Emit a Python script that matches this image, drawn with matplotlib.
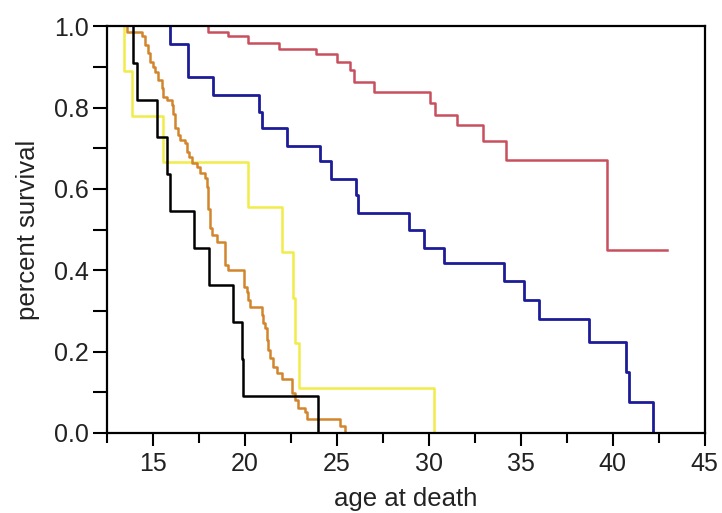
import matplotlib
matplotlib.use("Agg")
import matplotlib.pyplot as plt
from matplotlib.ticker import MultipleLocator

plt.rcParams['font.family'] = ['Liberation Sans', 'DejaVu Sans']

# event times (age at death) and survival after each event
black_t = [13.93, 14.15, 15.24, 15.75, 15.93, 17.25, 18.05, 19.38, 19.83, 19.92, 24.0]
black_s = [0.909, 0.818, 0.727, 0.636, 0.545, 0.455, 0.364, 0.273, 0.182, 0.091, 0.0]

yellow_t = [13.44, 13.88, 15.57, 20.19, 22.0, 22.61, 22.73, 22.97, 30.26]
yellow_s = [0.889, 0.778, 0.667, 0.556, 0.444, 0.333, 0.222, 0.111, 0.0]

orange_t = [13.57, 14.39, 14.57, 14.75, 14.84, 15.02, 15.11, 15.29, 15.48, 15.56,
            15.75, 16.02, 16.11, 16.20, 16.38, 16.47, 16.75, 16.87, 16.98, 17.11,
            17.38, 17.56, 17.83, 17.93, 18.01, 18.10, 18.20, 18.47, 18.92, 19.10,
            19.96, 20.10, 20.19, 20.28, 20.92, 21.01, 21.10, 21.19, 21.28, 21.37,
            21.55, 21.74, 22.01, 22.55, 22.73, 22.91, 23.28, 23.37, 25.18, 25.46]
orange_s = [0.986, 0.975, 0.953, 0.933, 0.912, 0.900, 0.888, 0.867, 0.847, 0.826,
            0.818, 0.806, 0.785, 0.749, 0.732, 0.720, 0.712, 0.691, 0.679, 0.663,
            0.654, 0.638, 0.626, 0.605, 0.550, 0.503, 0.486, 0.470, 0.413, 0.400,
            0.359, 0.347, 0.327, 0.310, 0.290, 0.270, 0.257, 0.228, 0.204, 0.184,
            0.163, 0.147, 0.132, 0.098, 0.081, 0.061, 0.052, 0.034, 0.017, 0.0]

blue_t = [15.93, 16.89, 18.29, 20.77, 20.92, 22.28, 24.09, 24.69, 26.06, 26.18,
          28.94, 29.72, 30.81, 34.07, 35.2, 35.98, 38.7, 40.75, 40.9, 42.2]
blue_s = [0.957, 0.875, 0.832, 0.789, 0.750, 0.706, 0.668, 0.624, 0.585, 0.540,
          0.500, 0.455, 0.419, 0.374, 0.327, 0.280, 0.224, 0.149, 0.075, 0.0]

red_t = [18.01, 19.1, 20.19, 21.88, 23.85, 25.02, 25.73, 25.95, 27.03, 30.08,
         30.36, 31.54, 32.93, 34.2, 39.7]
red_s = [0.986, 0.975, 0.959, 0.943, 0.931, 0.912, 0.893, 0.863, 0.839, 0.811,
         0.781, 0.757, 0.718, 0.671, 0.451]
red_last = 42.97

fig = plt.figure(figsize=(7.22, 5.13), dpi=100)
ax = fig.add_axes([0.148, 0.156, 0.828, 0.793])


def km(t, s, color, lw=1.8, end=None):
    x = [t[0]] + list(t)
    y = [1.0] + list(s)
    if end is not None:
        x.append(end)
        y.append(s[-1])
    ax.step(x, y, where='post', color=color, lw=lw, zorder=2)


km(red_t, red_s, '#c8505e', end=red_last)
km(blue_t, blue_s, '#1c1c98', lw=2.0)
km(yellow_t, yellow_s, '#f0ec48')
km(orange_t, orange_s, '#d2852c')
km(black_t, black_s, 'black')

ax.set_xlim(12.5, 45)
ax.set_ylim(0, 1.0)
ax.xaxis.set_major_locator(MultipleLocator(5))
ax.xaxis.set_minor_locator(MultipleLocator(2.5))
ax.yaxis.set_major_locator(MultipleLocator(0.2))
ax.yaxis.set_minor_locator(MultipleLocator(0.1))
ax.set_yticklabels([f"{v:.1f}" for v in ax.get_yticks()])

ax.tick_params(axis='x', which='major', direction='out', length=9.5, width=1.5,
               labelsize=18, pad=4, labelcolor='#222222')
ax.tick_params(axis='x', which='minor', direction='out', length=7.5, width=1.5)
ax.tick_params(axis='y', which='both', direction='out', length=10, width=1.5,
               labelsize=18, pad=3, labelcolor='#222222')
for sp in ax.spines.values():
    sp.set_linewidth(1.6)

ax.set_xlabel('age at death', fontsize=18.5, labelpad=8, color='#222222')
ax.set_ylabel('percent survival', fontsize=18.5, labelpad=10, color='#222222')

fig.savefig('out.png', dpi=100)
